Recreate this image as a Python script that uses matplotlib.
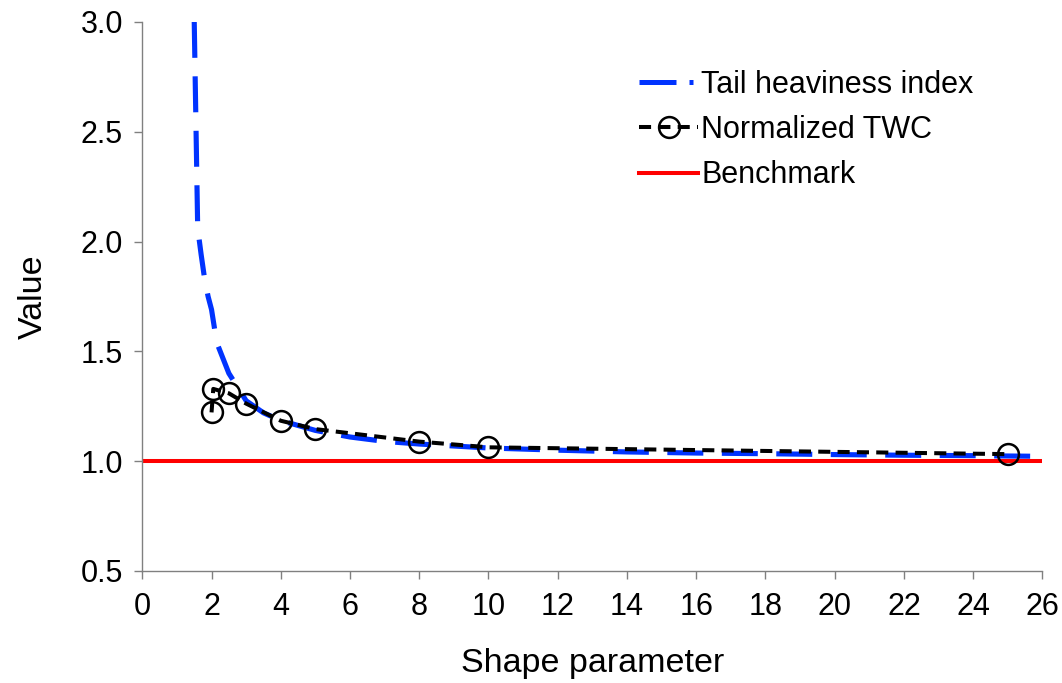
import matplotlib
matplotlib.use("Agg")
import matplotlib.pyplot as plt
from matplotlib.lines import Line2D

plt.rcParams['font.family'] = ['Liberation Sans', 'DejaVu Sans']

# Tail heaviness index (blue dash-dot curve)
shape_thi = [1.5, 1.6, 1.7, 1.8, 1.9, 2.0, 2.15, 2.3, 2.5, 3.0, 3.5, 4.0, 5.0, 6.0, 7.0, 8.0,
             10.0, 12.0, 14.0, 16.0, 18.0, 20.0, 22.0, 24.0, 26.0]
thi_values = [3.0, 2.06, 1.94, 1.83, 1.75, 1.69, 1.54, 1.48, 1.40, 1.275, 1.22, 1.185, 1.14, 1.11,
              1.09, 1.078, 1.06, 1.05, 1.042, 1.037, 1.034, 1.03, 1.027, 1.025, 1.022]

# Normalized TWC (black dashed with open circles)
shape_twc = [2.0, 2.05, 2.5, 3.0, 4.0, 5.0, 8.0, 10.0, 25.0]
twc_values = [1.222, 1.329, 1.309, 1.262, 1.184, 1.146, 1.089, 1.063, 1.032]

# Benchmark
bench_x = [0, 26]
bench_y = [1.0, 1.0]

x_ticks = list(range(0, 27, 2))
y_ticks = [0.5, 1.0, 1.5, 2.0, 2.5, 3.0]

BLUE = '#0033ff'

fig = plt.figure(figsize=(10.62, 6.83), dpi=100)
ax = fig.add_axes([0.134, 0.164, 0.8475, 0.804])

l_bench, = ax.plot(bench_x, bench_y, color='#ff0000', lw=2.9, zorder=2, label='Benchmark')
ax.plot(shape_thi, thi_values, color=BLUE, lw=3.7, dash_capstyle='butt',
        linestyle=(0, (7.0, 3.6)), zorder=3)
l_twc, = ax.plot(shape_twc, twc_values, color='black', lw=2.9, linestyle=(0, (3, 1.8)),
                 marker='o', markersize=15, markerfacecolor='none', markeredgecolor='black',
                 markeredgewidth=1.8, zorder=4, label='Normalized TWC')

# legend proxy showing the long-dash-dot pattern
l_thi = Line2D([], [], color=BLUE, lw=3.6, linestyle=(0, (7.4, 2.6, 0.8, 10)),
               label='Tail heaviness index')

ax.set_xlim(0, 26)
ax.set_ylim(0.5, 3.0)
ax.set_xticks(x_ticks)
ax.set_yticks(y_ticks)
ax.set_yticklabels([f"{v:.1f}" for v in y_ticks])

for s in ['top', 'right']:
    ax.spines[s].set_visible(False)
for s in ['left', 'bottom']:
    ax.spines[s].set_color('#808080')
    ax.spines[s].set_linewidth(1.0)

ax.tick_params(axis='both', direction='out', length=6, width=1.0, color='#808080',
               labelsize=22, labelcolor='black')
ax.tick_params(axis='x', pad=9)
ax.tick_params(axis='y', pad=8)

ax.set_xlabel('Shape parameter', fontsize=24.5, labelpad=19)
ax.set_ylabel('Value', fontsize=24.5, labelpad=23)

leg = ax.legend(handles=[l_thi, l_twc, l_bench], loc='upper left',
                bbox_to_anchor=(0.538, 0.935), frameon=False, fontsize=22,
                handlelength=1.95, handletextpad=0.1, labelspacing=0.5, borderaxespad=0)

fig.savefig('out.png', dpi=100)
